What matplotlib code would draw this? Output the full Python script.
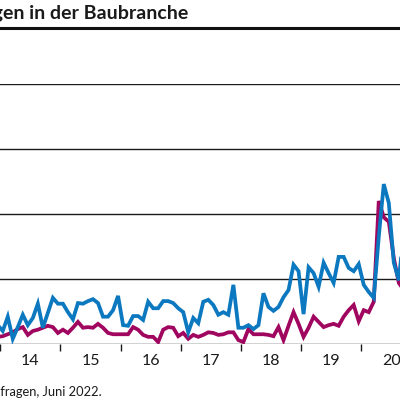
import numpy as np
import pandas as pd
import matplotlib
matplotlib.use("Agg")
import matplotlib.pyplot as plt

# monthly series, Dec 2013 .. Sep 2020 (% of firms)
months = pd.date_range("2013-12-01", "2020-09-01", freq="MS")

blue_vals = [
    2.9,
    2.0, 4.2, 0.8, 2.6, 4.5, 2.9, 4.0, 6.2, 2.5, 4.8, 7.1, 6.2,
    6.2, 4.9, 3.8, 6.3, 6.2, 6.6, 6.9, 6.3, 4.2, 4.2, 5.2, 7.4,
    2.9, 2.8, 4.3, 4.3, 3.7, 6.5, 5.5, 5.5, 6.6, 6.6, 6.3, 5.5,
    4.9, 1.8, 4.0, 3.2, 6.5, 6.8, 6.0, 4.5, 4.9, 4.5, 9.1, 2.5,
    2.5, 2.9, 2.3, 2.9, 7.8, 5.7, 5.1, 5.7, 7.2, 8.3, 12.2, 11.2,
    4.6, 11.8, 10.9, 8.8, 12.5, 10.9, 9.4, 13.4, 13.4, 11.7, 11.2, 12.3,
    9.1, 8.0, 7.1, 16.5, 24.6, 21.7, 12.5, 9.8, 17.5,
]
pink_vals = [
    1.1,
    1.2, 1.5, 1.8, 2.3, 2.6, 1.4, 2.0, 2.2, 2.5, 2.8, 2.6, 1.7,
    2.2, 1.7, 2.5, 3.4, 2.5, 2.6, 2.5, 3.1, 2.5, 1.7, 1.5, 1.5,
    1.5, 1.5, 2.6, 2.2, 1.4, 1.1, 1.1, 0.3, 2.2, 2.6, 2.5, 1.2,
    1.7, 0.8, 1.4, 1.1, 1.4, 1.8, 1.7, 1.4, 1.5, 1.8, 1.8, 0.6,
    0.3, 2.3, 1.5, 1.5, 1.5, 1.4, 1.2, 2.6, 0.6, 2.8, 4.9, 3.1,
    1.1, 2.5, 4.2, 3.4, 2.6, 2.9, 3.1, 2.8, 4.2, 5.2, 6.0, 3.5,
    5.2, 4.9, 6.5, 22.0, 19.5, 18.8, 13.2, 9.4, 8.3,
]
years = [2014, 2015, 2016, 2017, 2018, 2019, 2020]
year_labels = ["14", "15", "16", "17", "18", "19", "20"]

BLUE = "#0b78c0"
PINK = "#a0065f"

x = months.year + (months.month - 0.5) / 12

fig = plt.figure(figsize=(4, 4), dpi=100)
ax = fig.add_axes([0.0, 0.14, 1.0, 0.65])

ax.plot(x, blue_vals, color=BLUE, lw=2.7, solid_joinstyle="miter", zorder=3)
ax.plot(x, pink_vals, color=PINK, lw=2.7, solid_joinstyle="miter", zorder=2)

ax.set_xlim(2014.0 - 0.004, 2014.0 + 400 / 60.2)
ax.set_ylim(0, 40)
ax.set_yticks([0, 10, 20, 30, 40])
ax.yaxis.grid(True, color="#1a1a1a", lw=1.0)
ax.set_axisbelow(True)
ax.tick_params(axis="y", left=False, labelleft=False)
for s in ax.spines.values():
    s.set_visible(False)

ax.set_xticks(years)
ax.set_xticklabels([])
ax.set_xticks([y + 0.5 for y in years], minor=True)
ax.set_xticklabels(year_labels, minor=True, fontsize=11.5, family="Lato", color="#1a1a1a")
ax.tick_params(axis="x", which="major", direction="out", length=5, width=1, color="#1a1a1a")
ax.tick_params(axis="x", which="minor", length=0, pad=7)

# heading rule and texts
fig.add_artist(plt.Line2D([0, 1], [1 - 28 / 400, 1 - 28 / 400], color="#111111", lw=2.2))
fig.text(188 / 400, 1 - 19 / 400, "Behinderungen in der Baubranche", ha="right",
         va="baseline", fontsize=14, fontweight="bold", family="Lato", color="#1a1a1a")
fig.text(102 / 400, 1 - 396 / 400, "Quelle: ifo Konjunkturumfragen, Juni 2022.", ha="right",
         va="baseline", fontsize=9.3, family="Lato", color="#1a1a1a")

fig.savefig("out.png", dpi=100)
